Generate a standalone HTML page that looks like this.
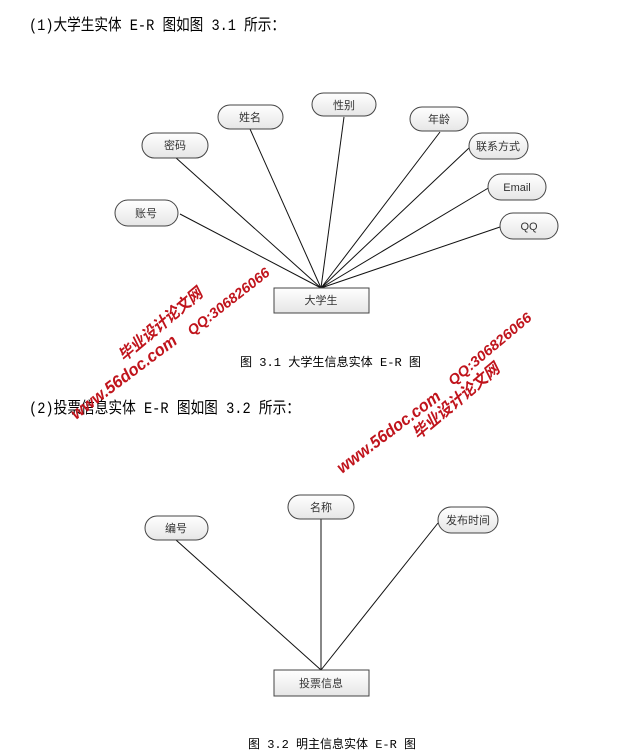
<!DOCTYPE html>
<html><head><meta charset="utf-8"><style>
html,body{margin:0;padding:0;background:#fff;}
svg{display:block;}
.h{font-family:"Liberation Mono","Noto Sans CJK SC",monospace;font-size:16px;fill:#000;}
.c{font-family:"Liberation Mono","Noto Sans CJK SC",monospace;font-size:12px;fill:#000;}
.n{font-family:"Liberation Sans","Noto Sans CJK SC",sans-serif;font-size:11px;fill:#333;text-anchor:middle;}
.w{font-family:"Liberation Sans","Noto Sans CJK SC",sans-serif;font-weight:bold;font-style:italic;fill:#c0141c;}
</style></head><body>
<svg width="632" height="755" viewBox="0 0 632 755" xmlns="http://www.w3.org/2000/svg">
<defs>
<linearGradient id="g" x1="0" y1="0" x2="0" y2="1"><stop offset="0" stop-color="#ffffff"/><stop offset="1" stop-color="#e6e6e6"/></linearGradient>
</defs>
<text class="h" x="29" y="30" textLength="256" lengthAdjust="spacingAndGlyphs">(1)大学生实体 E-R 图如图 3.1 所示：</text>
<g stroke="#111" stroke-width="1">
<line x1="321" y1="288" x2="180" y2="214"/>
<line x1="321" y1="288" x2="175" y2="157"/>
<line x1="321" y1="288" x2="250" y2="129"/>
<line x1="321" y1="288" x2="344" y2="117"/>
<line x1="321" y1="288" x2="440" y2="132"/>
<line x1="321" y1="288" x2="469" y2="148"/>
<line x1="321" y1="288" x2="490" y2="187"/>
<line x1="321" y1="288" x2="500" y2="227"/>
</g>
<g stroke="#444" stroke-width="1" fill="url(#g)">
<rect x="115" y="200" width="63" height="26" rx="13"/>
<rect x="142" y="133" width="66" height="25" rx="12.5"/>
<rect x="218" y="105" width="65" height="24" rx="12"/>
<rect x="312" y="93" width="64" height="23" rx="11.5"/>
<rect x="410" y="107" width="58" height="24" rx="12"/>
<rect x="469" y="133" width="59" height="26" rx="13"/>
<rect x="488" y="174" width="58" height="26" rx="13"/>
<rect x="500" y="213" width="58" height="26" rx="13"/>
<rect x="274" y="288" width="95" height="25"/>
</g>
<text class="n" x="146" y="217">账号</text>
<text class="n" x="175" y="149">密码</text>
<text class="n" x="250" y="121">姓名</text>
<text class="n" x="344" y="109">性别</text>
<text class="n" x="439" y="123">年龄</text>
<text class="n" x="498" y="150">联系方式</text>
<text class="n" x="517" y="191">Email</text>
<text class="n" x="529" y="230">QQ</text>
<text class="n" x="321" y="304">大学生</text>
<text class="c" x="240" y="366" textLength="181" lengthAdjust="spacingAndGlyphs">图 3.1 大学生信息实体 E-R 图</text>
<text class="h" x="29" y="413" textLength="271" lengthAdjust="spacingAndGlyphs">(2)投票信息实体 E-R 图如图 3.2 所示：</text>
<g stroke="#111" stroke-width="1">
<line x1="321" y1="670" x2="176" y2="540"/>
<line x1="321" y1="670" x2="321" y2="519"/>
<line x1="321" y1="670" x2="438" y2="523"/>
</g>
<g stroke="#444" stroke-width="1" fill="url(#g)">
<rect x="145" y="516" width="63" height="24" rx="12"/>
<rect x="288" y="495" width="66" height="24" rx="12"/>
<rect x="438" y="507" width="60" height="26" rx="13"/>
<rect x="274" y="670" width="95" height="26"/>
</g>
<text class="n" x="176" y="532">编号</text>
<text class="n" x="321" y="511">名称</text>
<text class="n" x="468" y="524">发布时间</text>
<text class="n" x="321" y="687">投票信息</text>
<text class="c" x="248" y="748" textLength="168" lengthAdjust="spacingAndGlyphs">图 3.2 明主信息实体 E-R 图</text>
<g>
<text class="w" font-size="16" textLength="104" lengthAdjust="spacingAndGlyphs" transform="translate(124,362) rotate(-40)">毕业设计论文网</text>
<text class="w" font-size="14" textLength="100" lengthAdjust="spacingAndGlyphs" transform="translate(192,336) rotate(-38)">QQ:306826066</text>
<text class="w" font-size="17" textLength="128" lengthAdjust="spacingAndGlyphs" transform="translate(76,420) rotate(-37)">www.56doc.com</text>
<text class="w" font-size="17" textLength="125" lengthAdjust="spacingAndGlyphs" transform="translate(342,474) rotate(-37)">www.56doc.com</text>
<text class="w" font-size="14" textLength="104" lengthAdjust="spacingAndGlyphs" transform="translate(453,386) rotate(-40)">QQ:306826066</text>
<text class="w" font-size="16" textLength="108" lengthAdjust="spacingAndGlyphs" transform="translate(418,440) rotate(-40)">毕业设计论文网</text>
</g>
</svg>
</body></html>
